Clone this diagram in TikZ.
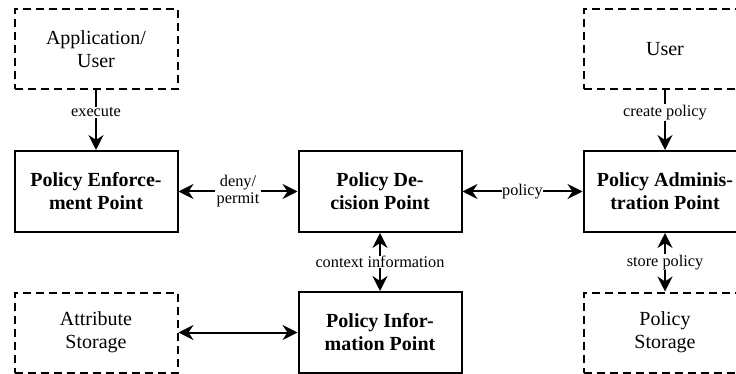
\documentclass[tikz,border=0pt]{standalone}
\usepackage{fontspec}
\setmainfont{Liberation Serif}
\usetikzlibrary{arrows.meta}
\begin{document}
\begin{tikzpicture}[x=1pt,y=-1pt,
  box/.style={draw, line width=2pt, minimum width=163pt, minimum height=81pt, inner sep=0pt, align=center, font=\fontsize{20}{23}\selectfont\bfseries},
  dbox/.style={draw, line width=2pt, dash pattern=on 8pt off 5pt, minimum width=163pt, minimum height=80pt, inner sep=0pt, align=center, font=\fontsize{20}{23}\selectfont},
  tip/.style={Stealth[length=15pt,width=15pt,inset=5pt]},
  conn/.style={line width=2pt, -{Stealth[length=15pt,width=15pt,inset=5pt]}},
  biconn/.style={line width=2pt, {Stealth[length=15pt,width=15pt,inset=5pt]}-{Stealth[length=15pt,width=15pt,inset=5pt]}},
  lbl/.style={fill=white, inner sep=1pt, font=\fontsize{16.3}{18}\selectfont, align=center}
]
\path[use as bounding box, clip] (0,0) rectangle (736,374);
% top row
\node[dbox] (app) at (96,49) {Application/\\User};
\node[dbox] (user) at (665,49) {User};
% middle row
\node[box] (pep) at (96,191.5) {Policy Enforce-\\ment Point};
\node[box] (pdp) at (380,191.5) {Policy De-\\cision Point};
\node[box] (pap) at (665,191.5) {Policy Adminis-\\tration Point};
% bottom row
\node[dbox] (attr) at (96,332.5) {Attribute\\Storage};
\node[box] (pip) at (380,332.5) {Policy Infor-\\mation Point};
\node[dbox] (pst) at (665,332.5) {Policy\\Storage};
% connectors
\draw[conn] (app) -- node[lbl, pos=0.37] {execute} (pep);
\draw[conn] (user) -- node[lbl, pos=0.37] {create policy} (pap);
\draw[biconn] (pep) -- node[lbl, inner sep=2pt, font=\fontsize{16.3}{17}\selectfont] {deny/\\permit} (pdp);
\draw[biconn] (pdp) -- node[lbl, inner sep=0pt] {policy} (pap);
\draw[biconn] (pdp) -- node[lbl, inner sep=0.5pt] {context information} (pip);
\draw[biconn] (pap) -- node[lbl, inner sep=0.5pt] {store policy} (pst);
\draw[biconn] (attr) -- (pip);
\end{tikzpicture}
\end{document}
